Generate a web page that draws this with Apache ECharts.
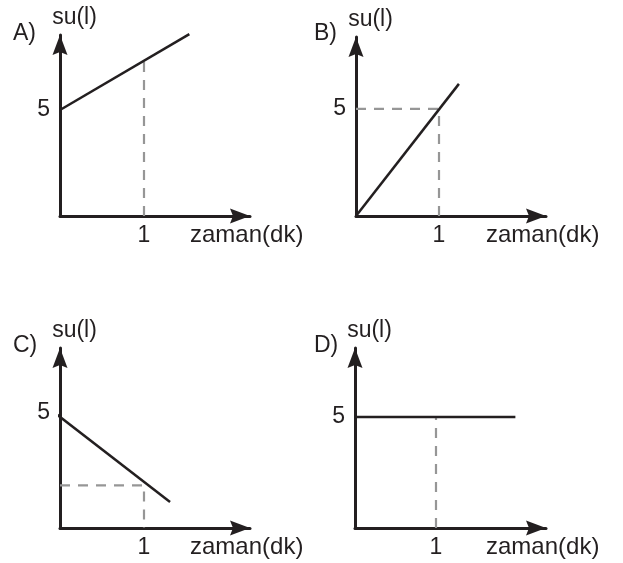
<!DOCTYPE html>
<html lang="tr">
<head>
	<meta charset="UTF-8">
	<title>su - zaman</title>
	<style>
		html,body{margin:0;padding:0;background:#fff;overflow:hidden;}
		#main{width:623px;height:563px;}
	</style>
</head>
<body>
	<div id="main"></div>
	<script src="https://cdn.jsdelivr.net/npm/echarts@6/dist/echarts.min.js"></script>
	<script>
		// values
		var panelLetters = ['A)', 'B)', 'C)', 'D)'];
		var xName = 'zaman(dk)';
		var yName = 'su(l)';
		var xTicks = [1];
		var yTicks = [5];

		var lineA = [[0, 5], [1.54, 8.58]];
		var lineB = [[0, 0], [1.24, 6.17]];
		var lineC = [[-0.06, 5], [1.31, 1.13]];
		var lineD = [[0, 5], [1.98, 5]];

		var guideA = [[1, 0], [1, 7.36]];
		var guideB = [[0, 5], [1, 5], [1, 0]];
		var guideC = [[0, 1.85], [1, 1.85], [1, 0]];
		var guideD = [[1, 0], [1, 5]];

		var ink = '#231f20';
		var font = '"Liberation Sans", Arial, sans-serif';
		var arrow = 'path://M7.5,0L15,20L7.5,17L0,20Z';

		// where each small graph sits on the page (axis ends = arrow tips)
		var panels = [
			{left: 60, top: 35, width: 190, height: 181, xMax: 2.262, yMax: 8.54, line: lineA, guide: guideA, tl: 13, tt: 22},
			{left: 356, top: 37, width: 190, height: 179, xMax: 2.289, yMax: 8.36, line: lineB, guide: guideB, tl: 314, tt: 22},
			{left: 60, top: 348, width: 190, height: 180, xMax: 2.262, yMax: 7.83, line: lineC, guide: guideC, tl: 13, tt: 334},
			{left: 355, top: 348, width: 191, height: 180, xMax: 2.358, yMax: 8.11, line: lineD, guide: guideD, tl: 314, tt: 334}
		];

		var option = {
			backgroundColor: '#fff',
			animation: false,
			title: [],
			grid: [],
			xAxis: [],
			yAxis: [],
			series: []
		};

		panels.forEach(function (p, i) {
			option.title.push({
				text: panelLetters[i],
				left: p.tl,
				top: p.tt,
				padding: 0,
				textStyle: {fontFamily: font, fontSize: 23, fontWeight: 'normal', color: ink}
			});
			option.grid.push({left: p.left, top: p.top, width: p.width, height: p.height, containLabel: false});
			option.xAxis.push({
				type: 'value',
				gridIndex: i,
				min: 0,
				max: p.xMax,
				name: xName,
				nameLocation: 'end',
				nameGap: -60,
				nameTextStyle: {fontFamily: font, fontSize: 24, color: ink, align: 'left', verticalAlign: 'top', padding: [7, 0, 0, 0]},
				axisLine: {show: true, onZero: false, symbol: ['none', arrow], symbolSize: [15, 20], symbolOffset: [0, -10], lineStyle: {color: ink, width: 3}},
				axisTick: {show: false},
				splitLine: {show: false},
				axisLabel: {customValues: xTicks, margin: 8, fontFamily: font, fontSize: 23, color: ink, verticalAlign: 'top'}
			});
			option.yAxis.push({
				type: 'value',
				gridIndex: i,
				min: 0,
				max: p.yMax,
				name: yName,
				nameLocation: 'end',
				nameGap: 17,
				nameTextStyle: {fontFamily: font, fontSize: 23, color: ink, align: 'center', verticalAlign: 'middle', padding: [0, 0, 0, 29]},
				axisLine: {show: true, onZero: false, symbol: ['none', arrow], symbolSize: [15, 20], symbolOffset: [0, -10], lineStyle: {color: ink, width: 3}},
				axisTick: {show: false},
				splitLine: {show: false},
				axisLabel: {customValues: yTicks, margin: 10, fontFamily: font, fontSize: 23, color: ink}
			});
			option.series.push({
				type: 'line',
				xAxisIndex: i,
				yAxisIndex: i,
				data: p.guide,
				symbol: 'none',
				silent: true,
				z: 1,
				lineStyle: {color: '#969696', width: 2.2, type: [10, 8]}
			});
			option.series.push({
				type: 'line',
				xAxisIndex: i,
				yAxisIndex: i,
				data: p.line,
				symbol: 'none',
				clip: false,
				silent: true,
				z: 3,
				lineStyle: {color: ink, width: 2.5}
			});
		});

		var chart = echarts.init(document.getElementById('main'), null, {renderer: 'canvas'});
		chart.setOption(option);
	</script>
</body>
</html>
